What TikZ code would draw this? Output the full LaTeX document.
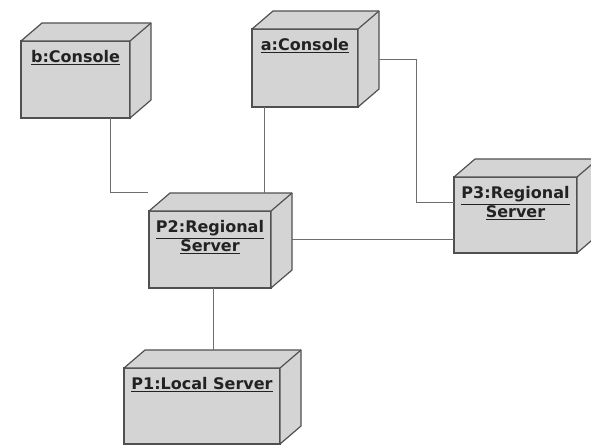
\documentclass[tikz,border=0pt]{standalone}
\usepackage{fontspec}
\setmainfont{DejaVu Sans}
\usetikzlibrary{positioning}
\definecolor{boxgray}{HTML}{D4D4D4}
\definecolor{boxedge}{HTML}{505050}
\definecolor{linkgray}{HTML}{6E6E6E}
\definecolor{labelink}{HTML}{222222}

\begin{document}
\begin{tikzpicture}[x=1pt, y=-1pt,
  devnode/.style={rectangle, draw=boxedge, fill=boxgray, line width=1.2pt,
    inner sep=0pt, outer sep=0pt, anchor=north west, label={[devtext]north:{#1}}},
  devtext/.style={anchor=north, yshift=-9.5pt, inner sep=0pt, align=center,
    text=labelink, font=\fontsize{16}{19}\selectfont\bfseries},
  face/.style={draw=boxedge, fill=boxgray, line width=1.2pt, line join=round},
  link/.style={draw=linkgray, line width=1pt}]
  \useasboundingbox (0,0) rectangle (591,445);
  \clip (0,0) rectangle (591,445);
  % nodes (front faces)
  \node[devnode={\underline{b:Console}}, minimum width=109, minimum height=77] (bcon) at (21,41) {};
  \node[devnode={\underline{a:Console}}, minimum width=106, minimum height=78] (acon) at (252,29) {};
  \node[devnode={\underline{P2:Regional}\\\underline{Server}}, minimum width=122, minimum height=77] (ptwo) at (149,211) {};
  \node[devnode={\underline{P3:Regional}\\\underline{Server}}, minimum width=123, minimum height=76] (pthree) at (454,177) {};
  \node[devnode={\underline{P1:Local Server}}, minimum width=156, minimum height=76] (pone) at (124,368) {};
  % top and side faces
  \foreach \n in {bcon,acon,ptwo,pthree,pone}{
    \draw[face] (\n.north west) -- ++(21,-18) -- ([shift={(21,-18)}]\n.north east)
      -- ([shift={(21,-18)}]\n.south east) -- (\n.south east) -- (\n.north east) -- cycle;
    \draw[face] (\n.north east) -- ([shift={(21,-18)}]\n.north east);
  }
  % connectors
  \coordinate (bgap) at (148,192);
  \coordinate (ptwotop) at ([yshift=18pt]ptwo.north);
  \coordinate (adrop) at ([xshift=-41pt]acon.south);
  \coordinate (aside) at ([shift={(21,-9)}]acon.east);
  \coordinate (aturn) at (416,202);
  \coordinate (ptwoside) at ([shift={(21,-10.5)}]ptwo.east);
  \coordinate (ptwodrop) at ([xshift=3pt]ptwo.south);
  \coordinate (ponetop) at ([yshift=18pt]pone.north);
  \draw[link] ([xshift=34.5pt]bcon.south) |- (bgap);
  \draw[link] (adrop) -- (adrop |- ptwotop);
  \draw[link] (aside) -| (aturn) -- (aturn -| pthree.west);
  \draw[link] (ptwoside) -- (ptwoside -| pthree.west);
  \draw[link] (ptwodrop) -- (ptwodrop |- ponetop);
\end{tikzpicture}
\end{document}
